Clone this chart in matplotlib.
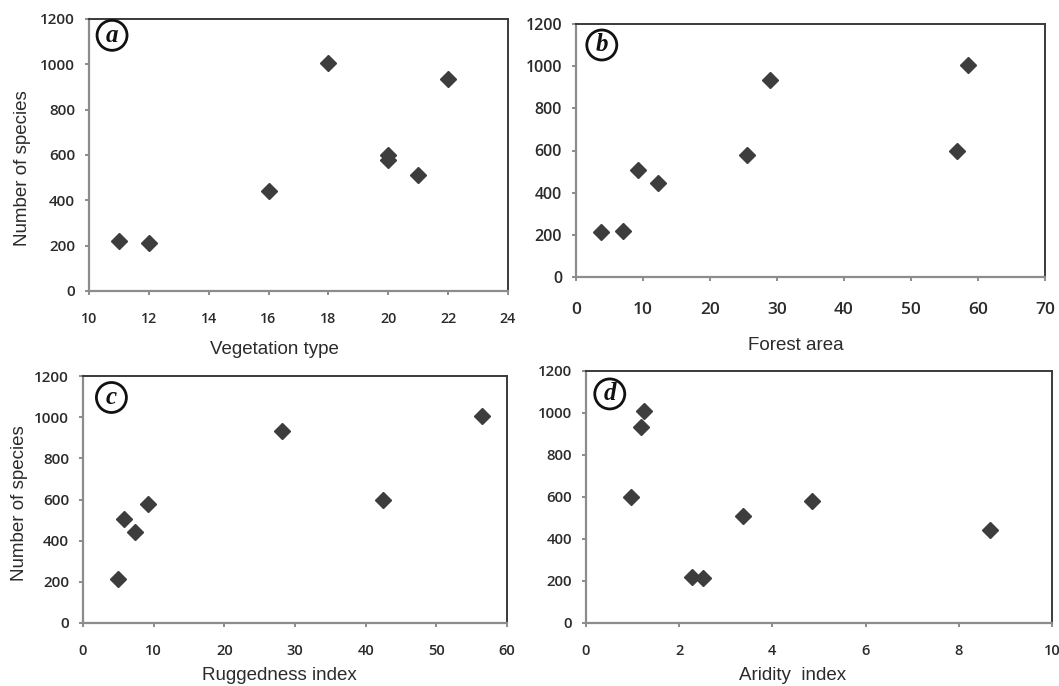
import matplotlib
matplotlib.use('Agg')
import matplotlib.pyplot as plt

# ── Data ───────────────────────────────────────────────────────────────────────
species_a = [220, 213, 443, 1008, 600, 577, 510, 935]
vegetation_type = [11, 12, 16, 18, 20, 20, 21, 22]

species_b = [215, 219, 508, 444, 579, 935, 600, 1007]
forest_area = [3.8, 7.0, 9.2, 12.3, 25.5, 28.9, 56.8, 58.5]

species_c = [215, 506, 440, 578, 932, 599, 1004]
ruggedness = [5.0, 5.8, 7.3, 9.2, 28.2, 42.4, 56.4]

species_d = [602, 934, 1008, 217, 214, 510, 579, 442]
aridity = [0.96, 1.17, 1.24, 2.27, 2.50, 3.37, 4.86, 8.68]

y_ticks = [0, 200, 400, 600, 800, 1000, 1200]

W, H = 1059, 686
fig = plt.figure(figsize=(W / 100, H / 100), dpi=100)
fig.patch.set_facecolor('white')

TICK_FONT = 'Open Sans'
LABEL_FONT = 'Liberation Sans'
TEXT_C = '#2b2b2b'
MARK_C = '#3d3d3d'


def px_axes(x0, y0, x1, y1):
    """Axes from pixel box (left, top, right, bottom)."""
    return fig.add_axes([x0 / W, 1 - y1 / H, (x1 - x0) / W, (y1 - y0) / H])


def style(ax, xlim, xstep, xfs, yfs, xpad):
    ax.set_xlim(*xlim)
    ax.set_ylim(0, 1200)
    ax.set_xticks(range(xlim[0], xlim[1] + 1, xstep))
    ax.set_yticks(y_ticks)
    for side in ('left', 'bottom'):
        ax.spines[side].set_color('#8c8c8c')
        ax.spines[side].set_linewidth(1.6)
    for side in ('top', 'right'):
        ax.spines[side].set_color('#3a3a3a')
        ax.spines[side].set_linewidth(1.4)
    ax.tick_params(axis='both', direction='out', length=3, width=1.4,
                   color='#8c8c8c', labelcolor=TEXT_C)
    ax.tick_params(axis='x', pad=xpad, labelsize=xfs)
    ax.tick_params(axis='y', pad=7, labelsize=yfs)
    for lab in ax.get_xticklabels() + ax.get_yticklabels():
        lab.set_fontfamily(TICK_FONT)
        lab.set_fontweight('semibold')


def panel_tag(ax, letter, xy):
    ax.text(xy[0], xy[1], letter, transform=ax.transAxes, ha='center',
            va='center', fontsize=18, fontstyle='italic', fontweight='bold',
            family='Liberation Serif', color='#111111',
            bbox=dict(boxstyle='circle,pad=0.14', fc='white', ec='#111111',
                      lw=2.0))


def fig_text(x, y, s, **kw):
    fig.text(x / W, 1 - y / H, s, ha='center', va='center', family=LABEL_FONT,
             fontsize=13.5, color=TEXT_C, **kw)


# ── (a) Vegetation type ───────────────────────────────────────────────────────
ax_a = px_axes(89, 19, 508, 291)
ax_a.plot(vegetation_type, species_a, 'D', ms=8.5, color=MARK_C, mec=MARK_C)
style(ax_a, (10, 24), 2, 10.3, 11, 12)
panel_tag(ax_a, 'a', (0.055, 0.94))
fig_text(274, 349, 'Vegetation type')
fig_text(23, 168, 'Number of species', rotation=90)

# ── (b) Forest area ───────────────────────────────────────────────────────────
ax_b = px_axes(576, 24, 1045, 277)
ax_b.plot(forest_area, species_b, 'D', ms=8.5, color=MARK_C, mec=MARK_C)
style(ax_b, (0, 70), 10, 12.5, 11.5, 15)
panel_tag(ax_b, 'b', (0.055, 0.917))
fig_text(796, 346, 'Forest area')

# ── (c) Ruggedness index ──────────────────────────────────────────────────────
ax_c = px_axes(83, 376, 507, 623)
ax_c.plot(ruggedness, species_c, 'D', ms=8.5, color=MARK_C, mec=MARK_C)
style(ax_c, (0, 60), 10, 10.5, 11, 12)
panel_tag(ax_c, 'c', (0.067, 0.913))
fig_text(279, 675, 'Ruggedness index')
fig_text(20, 503, 'Number of species', rotation=90)

# ── (d) Aridity index ─────────────────────────────────────────────────────────
ax_d = px_axes(586, 371, 1052, 623)
ax_d.plot(aridity, species_d, 'D', ms=8.5, color=MARK_C, mec=MARK_C)
style(ax_d, (0, 10), 2, 10.5, 10.8, 12)
panel_tag(ax_d, 'd', (0.051, 0.909))
fig_text(793, 676, 'Aridity  index')

fig.savefig('out.png', dpi=100, facecolor='white')
